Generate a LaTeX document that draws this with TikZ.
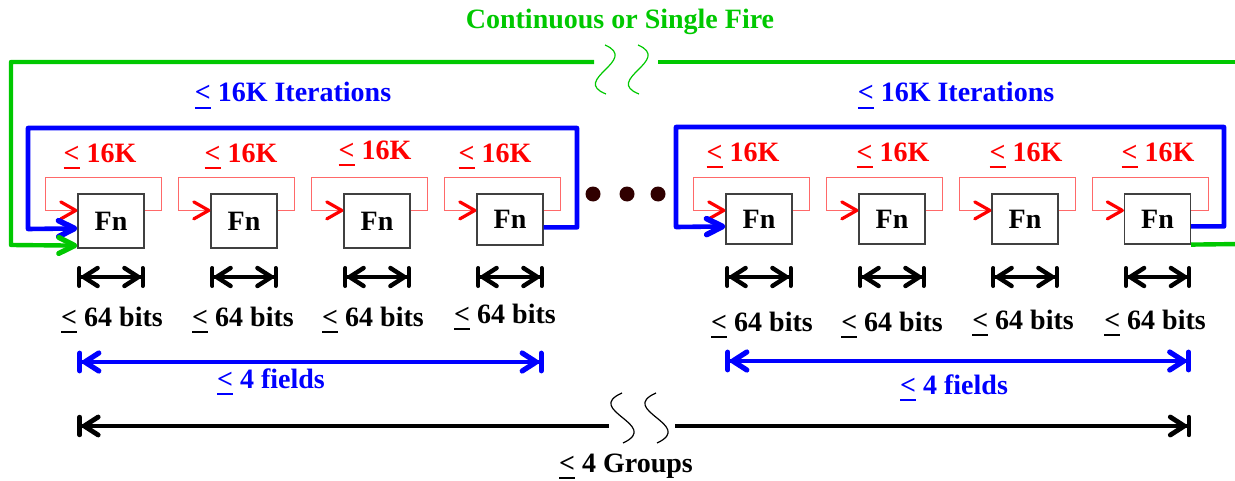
\documentclass[tikz,border=0pt]{standalone}
\usepackage{fontspec}
\setmainfont{Liberation Serif}
\usetikzlibrary{arrows.meta,calc}
\definecolor{fgreen}{RGB}{0,200,0}
\definecolor{fblue}{RGB}{0,0,255}
\definecolor{fred}{RGB}{255,0,0}
\definecolor{lred}{RGB}{255,105,105}
\definecolor{dotc}{RGB}{48,0,0}
\newcommand\uLE{\setbox0\hbox{<}\rlap{\rule[-0.26em]{\wd0}{0.09em}}\box0}
\tikzset{
  fnbox/.style={draw=black!75, line width=0.6pt, fill=white, minimum width=33pt, inner sep=0pt},
  lbl/.style={anchor=base, inner sep=0pt},
  redloop/.style={draw=lred, line width=0.6pt, -{Straight Barb[round,length=7.5pt,width=8.5pt,line width=1.6pt,color=fred]}},
  blueloop/.style={draw=fblue, line width=2.3pt, line join=round, -{Straight Barb[round,length=8pt,width=8pt,line width=2.8pt]}},
  greenloop/.style={draw=fgreen, line width=2.2pt, line join=round},
  bitsarrow/.style={draw=black, line width=1.7pt, {Bar[round,width=9pt,line width=2pt]Straight Barb[round,length=7pt,width=9pt,line width=2.2pt]}-{Straight Barb[round,length=7pt,width=9pt,line width=2.2pt]Bar[round,width=9pt,line width=2pt]}},
  fieldarrow/.style={draw=fblue, line width=2.2pt, {Bar[round,width=9pt,line width=2.4pt]Straight Barb[round,length=7pt,width=9pt,line width=2.6pt]}-{Straight Barb[round,length=7pt,width=9pt,line width=2.6pt]Bar[round,width=9pt,line width=2.4pt]}},
  grouparrow/.style={draw=black, line width=2pt},
  squig/.style={line width=0.6pt},
  dot/.style={circle, fill=dotc, minimum size=7.5pt, inner sep=0pt}
}
\begin{document}
\begin{tikzpicture}[x=0.5pt, y=-0.5pt, font=\fontsize{14}{16}\selectfont\bfseries]
\useasboundingbox (0,0) rectangle (1235,481);

% boxes
\node[fnbox, minimum height=27pt] (f1) at (111,221) {Fn};
\node[fnbox, minimum height=27pt] (f2) at (244,221) {Fn};
\node[fnbox, minimum height=27pt] (f3) at (377,221) {Fn};
\node[fnbox, minimum height=25.5pt] (f4) at (510,219.5) {Fn};
\node[fnbox, minimum height=25pt] (f5) at (759,219) {Fn};
\node[fnbox, minimum height=25pt] (f6) at (892,219) {Fn};
\node[fnbox, minimum height=25pt] (f7) at (1025,219) {Fn};
\node[fnbox, minimum height=25pt] (f8) at (1157.5,219) {Fn};

% red feedback loops
\foreach \f in {f1,f2,f3,f4,f5,f6,f7,f8}
  \draw[redloop] ($(\f.north east)+(0,17)$) -- ++(17,0) -- ++(0,-33) -- ++(-116,0) -- ++(0,33) -- ($(\f.north west)+(0,17)$);

% blue iteration loops
\draw[blueloop] ($(f4.north east)+(0,34)$) -| (577,128) -| (28,229) -- ($(f1.north west)+(0,35)$);
\draw[blueloop] ($(f8.north east)+(0,33)$) -| (1224,127) -| (676,227) -- ($(f5.north west)+(0,33)$);

% green loop
\coordinate (gA) at (594,62);
\coordinate (gB) at (658,62);
\coordinate (gC) at (1240,62);
\coordinate (gD) at (1240,244);
\draw[greenloop, -{Straight Barb[round,length=8pt,width=8pt,line width=2.6pt]}] (gA) -| (11,245) -- ($(f1.south west)+(0,-3)$);
\draw[greenloop] (gB) -- (gC);
\draw[greenloop] (f8.south east) -- (gD);
\draw[fgreen, squig] (605,45) .. controls (640,60) and (570,80) .. (606,94);
\draw[fgreen, squig] (638,45) .. controls (673,60) and (603,80) .. (639,94);

% dots
\node[dot] (d1) at (593,194) {};
\node[dot] (d2) at (627,194) {};
\node[dot] (d3) at (658,194) {};

% texts
\node[lbl, text=fgreen] (title) at (620,29) {Continuous or Single Fire};
\node[lbl, text=fblue] (it1) at (293,102) {\uLE{} 16K Iterations};
\node[lbl, text=fblue] (it2) at (956,102) {\uLE{} 16K Iterations};
\node[lbl, text=fred] (r1) at (100,162) {\uLE{} 16K};
\node[lbl, text=fred] (r2) at (241,162) {\uLE{} 16K};
\node[lbl, text=fred] (r3) at (375,159) {\uLE{} 16K};
\node[lbl, text=fred] (r4) at (495,162) {\uLE{} 16K};
\node[lbl, text=fred] (r5) at (743,161) {\uLE{} 16K};
\node[lbl, text=fred] (r6) at (893,161) {\uLE{} 16K};
\node[lbl, text=fred] (r7) at (1026,161) {\uLE{} 16K};
\node[lbl, text=fred] (r8) at (1158,161) {\uLE{} 16K};

% bit-width arrows
\foreach \f in {f1,f2,f3,f4,f5,f6,f7,f8}
  \draw[bitsarrow] (\f.west |- 0,277) -- (\f.east |- 0,277);
\node[lbl] (b1) at (112,326) {\uLE{} 64 bits};
\node[lbl] (b2) at (243,326) {\uLE{} 64 bits};
\node[lbl] (b3) at (373,326) {\uLE{} 64 bits};
\node[lbl] (b4) at (505,323) {\uLE{} 64 bits};
\node[lbl] (b5) at (762,331) {\uLE{} 64 bits};
\node[lbl] (b6) at (892,331) {\uLE{} 64 bits};
\node[lbl] (b7) at (1023,329) {\uLE{} 64 bits};
\node[lbl] (b8) at (1155,329) {\uLE{} 64 bits};

% field arrows
\draw[fieldarrow] (f1.west |- 0,362) -- (f4.east |- 0,362);
\draw[fieldarrow] (f5.west |- 0,361) -- (f8.east |- 0,361);
\node[lbl, text=fblue] (fl1) at (271,388) {\uLE{} 4 fields};
\node[lbl, text=fblue] (fl2) at (954,394) {\uLE{} 4 fields};

% groups arrow
\coordinate (kA) at (609,426);
\coordinate (kB) at (675,426);
\draw[grouparrow, {Bar[round,width=9pt,line width=2.2pt]Straight Barb[round,length=7pt,width=9pt,line width=2.4pt]}-] (f1.west |- 0,426) -- (kA);
\draw[grouparrow, -{Straight Barb[round,length=7pt,width=9pt,line width=2.4pt]Bar[round,width=9pt,line width=2.2pt]}] (kB) -- (f8.east |- 0,426);
\draw[squig] (622,393) .. controls (583,410) and (662,425) .. (623,443);
\draw[squig] (656,393) .. controls (617,410) and (696,425) .. (657,443);
\node[lbl] (grp) at (626,472) {\uLE{} 4 Groups};
\end{tikzpicture}
\end{document}
